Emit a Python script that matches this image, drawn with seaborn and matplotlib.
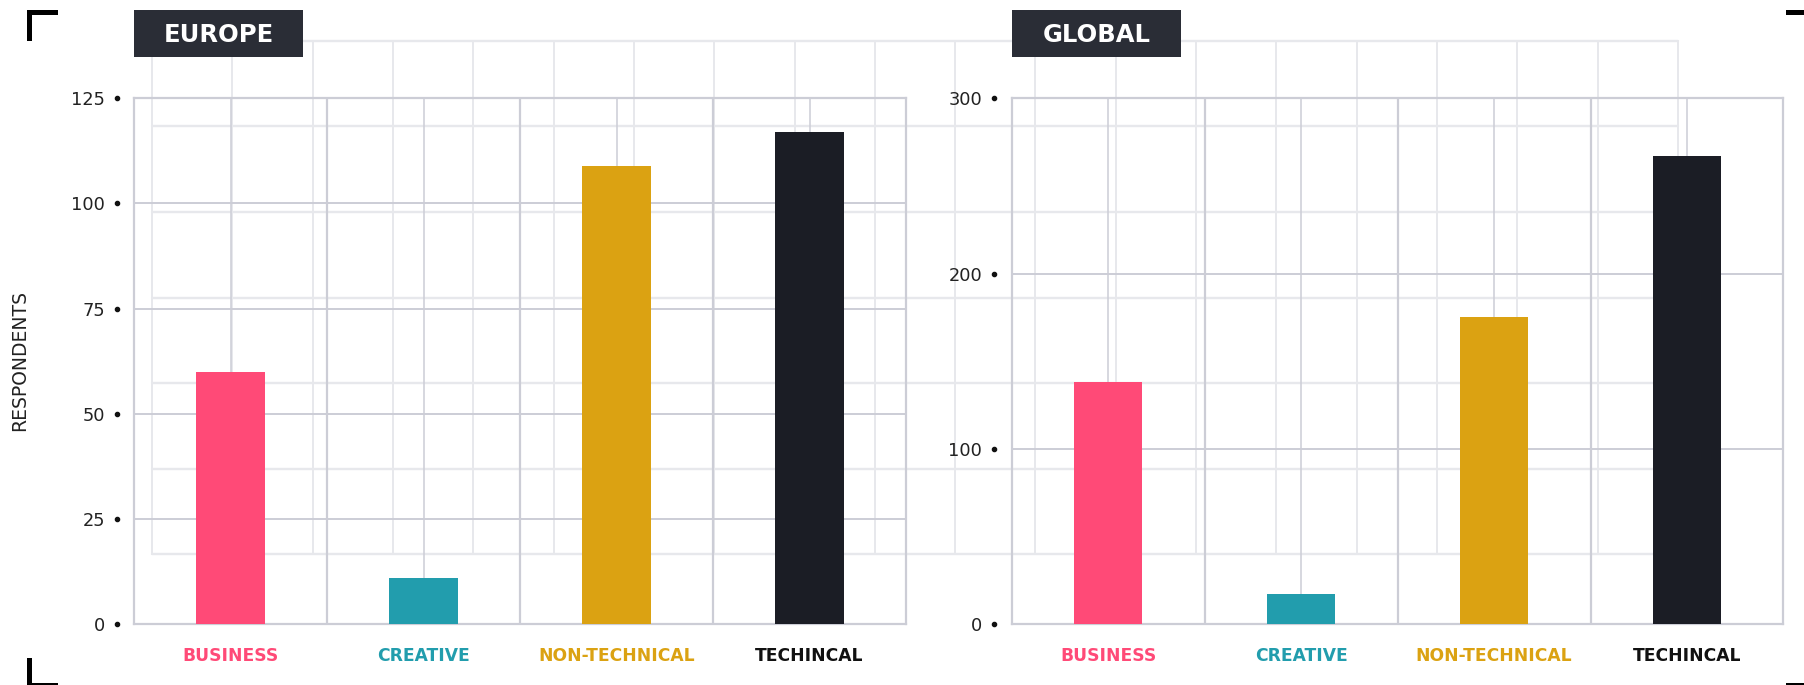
import matplotlib
matplotlib.use("Agg")
import matplotlib.pyplot as plt
import matplotlib.transforms as mtransforms
from matplotlib.patches import Rectangle
import numpy as np
import pandas as pd
import seaborn as sns

# ---- data -------------------------------------------------------------
categories = ["BUSINESS", "CREATIVE", "NON-TECHNICAL", "TECHINCAL"]
europe_values = [60, 11, 109, 117]
global_values = [138, 17, 175, 267]
europe_ticks = [0, 25, 50, 75, 100, 125]
global_ticks = [0, 100, 200, 300]
panel_titles = ["EUROPE", "GLOBAL"]
y_label = "RESPONDENTS"

bar_colors = ["#FF4A77", "#229DAD", "#DBA212", "#1B1D25"]
label_colors = ["#FF4A77", "#229DAD", "#DBA212", "#111111"]

GRID = "#cccdd6"
FAINT = "#e7e8ec"
BOX = "#2a2d36"

W, H = 1804, 685
sns.set_theme(style="white")
plt.rcParams["font.family"] = ["DejaVu Sans"]

fig = plt.figure(figsize=(W / 100, H / 100), dpi=100)
fig.patch.set_facecolor("white")

# background layer in pixel coordinates: offset decorative grid and corner marks
bg = fig.add_axes([0, 0, 1, 1], zorder=0)
bg.set_xlim(0, W)
bg.set_ylim(H, 0)
bg.axis("off")
gx0, gx1, gy0, gy1 = 152, 1678, 40.7, 554.3
for gx in np.linspace(gx0, gx1, 20):
    bg.plot([gx, gx], [gy0, gy1], color=FAINT, lw=1.4, zorder=0)
for gy in np.linspace(gy0, gy1, 7):
    bg.plot([gx0, gx1], [gy, gy], color=FAINT, lw=1.7, zorder=0)

corner_rects = [
    (27, 10, 31, 5), (27, 10, 5, 31),          # top-left
    (1786, 10, 31, 5), (1812, 10, 5, 31),      # top-right
    (27, 658, 5, 31), (27, 683, 31, 5),        # bottom-left
    (1786, 683, 31, 5), (1812, 658, 5, 31),    # bottom-right
]
for (rx, ry, rw, rh) in corner_rects:
    bg.add_patch(Rectangle((rx, ry), rw, rh, facecolor="black", edgecolor="none",
                           clip_on=False))


def panel(left_px, values, ticks, title, title_box):
    ax_w, top_px, bot_px = 772, 98.3, 624.3
    ax = fig.add_axes([left_px / W, 1 - bot_px / H, ax_w / W, (bot_px - top_px) / H],
                      zorder=2)
    ax.patch.set_alpha(0)
    df = pd.DataFrame({"category": categories, "value": values})
    # structural grid: horizontal at ticks, vertical at category centres and borders
    for t in ticks:
        ax.axhline(t, color=GRID, lw=1.4, zorder=0)
    for xc in range(len(categories)):
        ax.axvline(xc, color=GRID, lw=1.1, zorder=0)
    for xb in np.arange(0.5, len(categories) - 0.5, 1.0):
        ax.axvline(xb, color=GRID, lw=1.6, zorder=0)
    sns.barplot(data=df, x="category", y="value", hue="category",
                palette=bar_colors, width=0.354, legend=False, ax=ax,
                saturation=1, zorder=3, linewidth=0)
    ax.set_xlim(-0.5, len(categories) - 0.5)
    ax.set_ylim(0, ticks[-1])
    ax.set_yticks(ticks)
    ax.set_yticklabels([str(t) for t in ticks], fontsize=12.8, color="#222222")
    ax.tick_params(axis="y", length=0, pad=21)
    ax.tick_params(axis="x", length=0, pad=16.5)
    ax.set_xticks(range(len(categories)))
    ax.set_xticklabels(categories, fontsize=12.3, fontweight="bold")
    for lab, c in zip(ax.get_xticklabels(), label_colors):
        lab.set_color(c)
    ax.set_xlabel("")
    ax.set_ylabel("")
    for sp in ax.spines.values():
        sp.set_visible(True)
        sp.set_color(GRID)
        sp.set_linewidth(1.6)
    # dot markers beside each tick value
    trans = mtransforms.blended_transform_factory(ax.transAxes, ax.transData)
    ax.scatter([-17.5 / ax_w] * len(ticks), ticks, s=9, color="#111111",
               transform=trans, clip_on=False, zorder=5)
    # title tag
    bx0, by0, bx1, by1 = title_box
    bg.add_patch(Rectangle((bx0, by0), bx1 - bx0, by1 - by0, facecolor=BOX,
                           edgecolor="none", zorder=5))
    bg.text((bx0 + bx1) / 2, (by0 + by1) / 2 + 1, title, color="white",
            fontsize=17.5, fontweight="bold", ha="center", va="center", zorder=6)
    return ax


panel(134, europe_values, europe_ticks, panel_titles[0], (134, 10, 303, 57))
panel(1011.5, global_values, global_ticks, panel_titles[1], (1012, 10, 1181, 57))

fig.text(20 / W, 1 - 361 / H, y_label, rotation=90, ha="center", va="center",
         fontsize=13.5, color="#222222")

fig.savefig("out.png", dpi=100, facecolor="white")
